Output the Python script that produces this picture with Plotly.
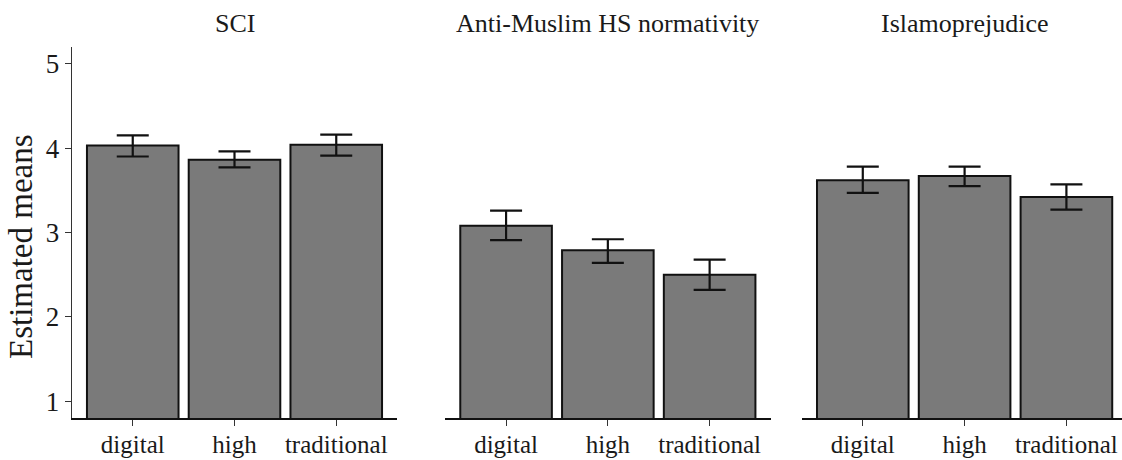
import plotly.graph_objects as go

# ---- data ----
categories = ["digital", "high", "traditional"]
panels = ["SCI", "Anti-Muslim HS normativity", "Islamoprejudice"]
means = [
    [4.03, 3.86, 4.04],
    [3.08, 2.79, 2.50],
    [3.62, 3.67, 3.42],
]
upper = [
    [4.15, 3.96, 4.16],
    [3.26, 2.92, 2.68],
    [3.78, 3.78, 3.57],
]
lower = [
    [3.90, 3.77, 3.91],
    [2.91, 2.64, 2.32],
    [3.47, 3.55, 3.27],
]
y_ticks = [1, 2, 3, 4, 5]

W, H = 1122, 460
FONT = "Liberation Serif"

# panel placement in pixels
x_dom_px = [(71.7, 397.3), (445.0, 770.7), (801.7, 1122.0)]
x_ranges = [[-0.6, 2.6], [-0.6, 2.6], [-0.6, 2.546]]
y_dom = [(H - 418.3) / H, (H - 46.7) / H]

fig = go.Figure()
for i in range(3):
    ax = "" if i == 0 else str(i + 1)
    err_plus = [u - m for u, m in zip(upper[i], means[i])]
    err_minus = [m - l for m, l in zip(means[i], lower[i])]
    fig.add_trace(go.Bar(
        x=categories, y=means[i], base=0,
        xaxis="x" + ax, yaxis="y" + ax,
        marker=dict(color="#7a7a7a", line=dict(color="#111111", width=2)),
        width=0.9,
        error_y=dict(type="data", symmetric=False, array=err_plus, arrayminus=err_minus,
                     color="#111111", thickness=2.2, width=16),
        showlegend=False, hoverinfo="skip",
    ))

layout = dict(
    width=W, height=H,
    margin=dict(l=0, r=0, t=0, b=0),
    paper_bgcolor="white", plot_bgcolor="white",
    font=dict(family=FONT, color="#1a1a1a"),
    showlegend=False,
)
for i in range(3):
    ax = "" if i == 0 else str(i + 1)
    x0, x1 = x_dom_px[i]
    layout["xaxis" + ax] = dict(
        domain=[x0 / W, x1 / W], range=x_ranges[i], anchor="y" + ax,
        showline=True, linecolor="#111111", linewidth=2,
        ticks="outside", ticklen=6, tickwidth=1.2, tickcolor="#333333",
        tickfont=dict(family=FONT, size=25, color="#1a1a1a"),
        ticklabelstandoff=-3,
        showgrid=False, zeroline=False, automargin=False,
        type="category",
    )
    if i == 0:
        layout["yaxis"] = dict(
            domain=list(y_dom), range=[0.8, 5.2], anchor="x",
            showline=True, linecolor="#333333", linewidth=1.3,
            ticks="outside", ticklen=6, tickwidth=1.2, tickcolor="#333333",
            tickvals=y_ticks, ticktext=[str(t) for t in y_ticks],
            tickfont=dict(family=FONT, size=27, color="#1a1a1a"),
            showgrid=False, zeroline=False, automargin=False,
        )
    else:
        layout["yaxis" + ax] = dict(
            domain=list(y_dom), range=[0.8, 5.2], anchor="x" + ax,
            visible=False, showgrid=False, zeroline=False,
        )

annotations = []
for i, name in enumerate(panels):
    x0, x1 = x_dom_px[i]
    cx = (x0 + x1) / 2 if i < 2 else (x0 + 1128.4) / 2
    annotations.append(dict(
        text=name, x=cx / W, y=1 - 23 / H, xref="paper", yref="paper",
        xanchor="center", yanchor="middle", showarrow=False,
        font=dict(family=FONT, size=26, color="#1a1a1a"),
    ))
annotations.append(dict(
    text="Estimated means", x=21 / W, y=(H - 247) / H, xref="paper", yref="paper",
    xanchor="center", yanchor="middle", showarrow=False, textangle=-90,
    font=dict(family=FONT, size=33, color="#1a1a1a"),
))
layout["annotations"] = annotations

fig.update_layout(**layout)
fig.write_html("out.html", config={"displayModeBar": False},
               post_script="document.body.style.margin='0';document.body.style.overflow='hidden';")
